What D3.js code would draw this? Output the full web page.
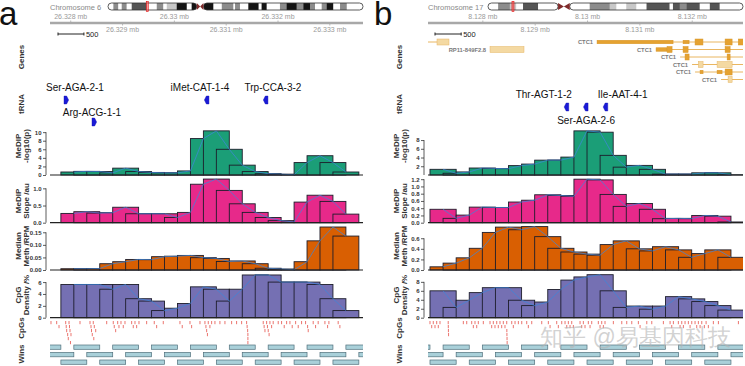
<!DOCTYPE html>
<html>
<head>
<meta charset="utf-8">
<script src="https://cdn.jsdelivr.net/npm/d3@7"></script>
<style>
  body { margin: 0; background: #fff; }
  svg { display: block; }
  text { font-family: "Liberation Sans", Arial, sans-serif; }
</style>
</head>
<body>
<div id="container"></div>
<script>
// ---- data ----
const winWidth = 500; // bp, every window

// chromosome bands [start Mb, end Mb, stain]
const chr6Bands = [[0,3.6,"gneg"],[3.6,6.9,"gpos50"],[6.9,9.2,"gneg"],[9.2,12.5,"gpos50"],[12.5,15.9,"gneg"],
  [15.9,25.9,"gpos75"],[25.9,32.7,"gneg"],[32.7,37.1,"gpos50"],[37.1,39.4,"gneg"],[39.4,46.1,"gpos25"],
  [46.1,52.8,"gpos100"],[52.8,56.1,"gneg"],[56.1,59.5,"gpos100"],[59.5,61.8,"acen"],[61.8,64,"acen"],
  [64,70.7,"gpos100"],[70.7,76.3,"gneg"],[76.3,84.1,"gpos50"],[84.1,85.2,"gneg"],[85.2,88.5,"gpos50"],
  [88.5,94.1,"gneg"],[94.1,101,"gpos100"],[101,103,"gneg"],[103,106.4,"gpos100"],[106.4,115.3,"gneg"],
  [115.3,119.8,"gpos50"],[119.8,126.5,"gpos100"],[126.5,131,"gpos50"],[131,135.5,"gpos100"],
  [135.5,138.8,"gpos50"],[138.8,143.3,"gneg"],[143.3,146.7,"gpos50"],[146.7,151.1,"gpos100"],
  [151.1,155.6,"gneg"],[155.6,160.1,"gpos50"],[160.1,171,"gneg"]];
const chr17Bands = [[0,3.3,"gneg"],[3.3,7.1,"gpos50"],[7.1,9.2,"gpos25"],[9.2,11.4,"gneg"],[11.4,16.3,"gpos75"],
  [16.3,22.8,"gneg"],[22.8,24.7,"acen"],[24.7,26.6,"acen"],[26.6,33.1,"gneg"],[33.1,39.6,"gpos50"],
  [39.6,41.8,"gpos25"],[41.8,45,"gneg"],[45,48.3,"gpos25"],[48.3,51.6,"gneg"],[51.6,59.1,"gpos75"],
  [59.1,60.2,"gneg"],[60.2,62.4,"gpos75"],[62.4,64.6,"gpos50"],[64.6,68.9,"gpos75"],[68.9,72.2,"gneg"],
  [72.2,75.4,"gpos75"],[75.4,83,"gneg"]];

const axisTicksA = [26328000, 26329000, 26330000, 26331000, 26332000, 26333000];
const axisTicksB = [8128000, 8129000, 8130000, 8131000, 8132000];

// window starts (bp), wins track shows all of them
const winsA = [26327310,26327560,26327810,26328060,26328310,26328560,26328810,26329060,26329310,26329560,
  26329810,26330060,26330310,26330560,26330810,26331060,26331310,26331560,26331810,26332060,26332310,
  26332560,26332810,26333060,26333310,26333560];
const winsB = [8126490,8126740,8126990,8127240,8127490,8127740,8127990,8128240,8128490,8128740,8128990,
  8129240,8129490,8129740,8129990,8130240,8130490,8130740,8130990,8131240,8131490,8131740,8131990,
  8132240,8132490,8132740];

// histogram values, one per window starting at wins[2]
const medipA  = [0.7,0.85,0.8,0.5,1.6,0.8,0.6,0.5,0.5,0.95,8.5,10.3,6.0,2.3,0.8,0.3,0.2,0.05,2.9,4.5,2.9,0.7];
const slopeA  = [0.27,0.32,0.28,0.29,0.45,0.26,0.26,0.26,0.15,0.3,1.12,1.27,0.94,0.55,0.3,0.15,0.06,0.02,0.6,0.8,0.62,0.25];
const medianA = [0.005,0.005,0.006,0.025,0.033,0.042,0.041,0.053,0.055,0.058,0.049,0.046,0.034,0.036,0.025,0.007,0.004,0.001,0.033,0.116,0.171,0.135];
const cpgDensA = [5.6,5.6,5.6,4.8,5.6,3.2,2.8,1.2,1.6,2.4,5.2,4.8,2.8,4.8,7.2,7.2,6.0,6.0,6.0,5.6,3.2,1.2];

const medipB  = [1.3,0.4,0.7,1.6,1.5,1.45,2.15,2.5,3.4,3.4,4.1,10.1,9.8,4.5,1.8,2.2,1.3,0.2,0.2,0.2,0.5,0.5,0.05];
const slopeB  = [0.37,0.12,0.21,0.43,0.42,0.42,0.57,0.62,0.77,0.75,0.73,1.2,1.18,0.78,0.45,0.53,0.37,0.11,0.12,0.11,0.2,0.18,0.02];
const medianB = [0.06,0.13,0.23,0.41,0.71,0.81,0.76,0.82,0.63,0.41,0.34,0.3,0.28,0.48,0.55,0.4,0.36,0.44,0.38,0.24,0.31,0.38,0.24];
const cpgDensB = [6.0,2.3,3.9,5.6,6.7,6.7,3.9,2.7,3.5,6.3,8.4,9.1,9.6,6.0,2.3,2.6,1.9,2.6,4.7,4.2,3.6,2.7,1.7];

// CpG sites (bp)
const cpgA = [26327619,26327729,26327774,26327903,26327913,26327922,26327941,26327953,26327967,26327976,26327986,
  26327995,26328005,26328179,26328372,26328391,26328401,26328416,26328435,26328445,26328455,26328482,26328694,
  26328821,26328840,26328867,26328906,26328931,26328970,26329014,26329047,26329176,26329207,26329240,26329272,
  26329317,26329465,26329612,26329658,26329786,26330108,26330152,26330301,26330333,26330494,26330590,26330609,
  26330623,26330638,26330654,26330686,26330719,26330783,26330879,26330976,26331105,26331201,26331298,26331394,
  26331404,26331414,26331419,26331419,26331419,26331425,26331715,26331732,26331748,26331780,26331796,26331811,
  26331828,26331844,26331877,26331907,26332004,26332069,26332120,26332166,26332230,26332274,26332340,26332390,
  26332455,26332532,26332571,26332583,26332679,26332725,26332775,26332905,26332957,26332982,26333161,26333194];
const cpgB = [8126990,8127023,8127053,8127086,8127118,8127149,8127181,8127338,8127340,8127342,8127345,8127627,
  8127692,8127787,8127818,8127850,8127883,8127913,8128009,8128137,8128169,8128200,8128232,8128265,8128295,
  8128327,8128360,8128391,8128423,8128456,8128458,8128460,8128462,8128464,8128466,8128552,8128582,8128615,
  8128678,8128743,8128838,8128869,8128934,8129125,8129251,8129284,8129411,8129442,8129507,8129570,8129603,
  8129633,8129666,8129698,8129729,8129857,8129889,8129920,8129952,8130015,8130048,8130080,8130206,8130239,
  8130271,8130302,8130334,8130493,8130654,8130749,8130845,8130971,8131004,8131132,8131227,8131449,8131577,
  8131609,8131640,8131735,8131768,8131800,8131831,8131863,8131926,8131959,8131991,8132054,8132086,8132117,
  8132150,8132182,8132232,8132265,8132308,8132404,8132500,8132882];

// tRNA genes
const trnaNamesA = ["Ser-AGA-2-1", "Arg-ACG-1-1", "iMet-CAT-1-4", "Trp-CCA-3-2"];
const trnaPosA = [26327909, 26328449, 26330629, 26331767];
const trnaStrandA = ["+", "+", "-", "-"];
const trnaNamesB = ["Thr-AGT-1-2", "Ser-AGA-2-6", "Ile-AAT-4-1"];
const trnaPosB = [8129603, 8129972, 8130348];
const trnaStrandB = ["-", "-", "-"];

// gene models in panel b: transcript span and exons [start, end, kind]
const geneNamesB = ["", "CTC1", "RP11-849F2.8", "CTC1", "CTC1", "CTC1", "CTC1", "CTC1"];
const geneSpansB = [[8126700,8127353],[8130182,8133300],[8128137,8128786],[8131309,8133300],
  [8131768,8133300],[8131997,8133300],[8132054,8133300],[8132551,8133300]];
const geneExonsB = [
  [[8127124,8127353,"nc"]],
  [[8130182,8131634,"utr"],[8131825,8131940,"utr"],[8132054,8132205,"cds"],[8132628,8132762,"cds"],[8132880,8132990,"cds"]],
  [[8128137,8128786,"nc"]],
  [[8131309,8131519,"utr"],[8131519,8131615,"cds"],[8131825,8131921,"cds"],[8132628,8132724,"cds"]],
  [[8131863,8131940,"cds"],[8132667,8132724,"cds"]],
  [[8132117,8132207,"nc"],[8132475,8132762,"nc"]],
  [[8132150,8132207,"utr"],[8132475,8132570,"utr"],[8132628,8132762,"cds"]],
  [[8132685,8132762,"nc"]]
];

// ---- layout ----
const W = 745, H = 366;
const bandFill = {gneg:"#ffffff", gpos25:"#c8c8c8", gpos50:"#8c8c8c", gpos75:"#555555", gpos100:"#141414"};
const histRows = [
  {top:130, bot:175,   title:["MeDIP","-log10(p)"], ty:146, color:"#1b9e77"},
  {top:177, bot:222.7, title:["MeDIP","Slope /au"], ty:201, color:"#e7298a"},
  {top:225, bot:270,   title:["Median","Meth /RPM"], ty:246, color:"#d95f02"},
  {top:272, bot:317.7, title:["CpG","Density /%"], ty:295, color:"#7570b3"}
];
const geneRowY = [42, 49.5, 57, 64.5, 72, 79.5];
const geneRows = [0, 0, 1, 1, 2, 3, 4, 5];

const panels = [
  {key:"a", off:0, letterX:-1, left:50, right:363, domain:[26327600, 26333640],
   chrom:"Chromosome 6", chromLen:171, bands:chr6Bands, ideoX:[108,363], here:26.33,
   ticks:axisTicksA, wins:winsA, cpg:cpgA,
   hist:[medipA, slopeA, medianA, cpgDensA], ymax:[10.5, 1.33, 0.179, 7.7],
   yticks:[[0,2,4,6,8,10],[0,0.5,1],[0,0.05,0.1,0.15],[0,2,4,6]],
   trna:{names:trnaNamesA, pos:trnaPosA, strand:trnaStrandA,
         my:[100,122,100,100], ly:[91,116,91,91], ldx:[9,-2,-7,7]}},
  {key:"b", off:378, letterX:374, left:428, right:743, domain:[8126952, 8132970],
   chrom:"Chromosome 17", chromLen:83, bands:chr17Bands, ideoX:[488,743], here:8.13,
   ticks:axisTicksB, wins:winsB, cpg:cpgB,
   hist:[medipB, slopeB, medianB, cpgDensB], ymax:[10.3, 1.26, 0.85, 10.2],
   yticks:[[2,4,6,8],[0,0.2,0.4,0.6,0.8,1,1.2],[0,0.2,0.4,0.6],[0,2,4,6,8]],
   trna:{names:trnaNamesB, pos:trnaPosB, strand:trnaStrandB,
         my:[107,107,107], ly:[98,124,98], ldx:[-23,0,17]},
   genes:true}
];

const svg = d3.select("#container").append("svg").attr("width", W).attr("height", H);
const defs = svg.append("defs");

function vTitle(g, lines, cx, cy) {
  const n = lines.length;
  lines.forEach((t, i) => {
    const x = cx + (i - (n - 1) / 2) * 8;
    g.append("text").attr("transform", `translate(${x},${cy}) rotate(-90)`)
      .attr("text-anchor", "middle").attr("dy", "0.35em")
      .attr("font-size", 8).attr("font-weight", "bold").attr("fill", "#333").text(t);
  });
}

panels.forEach(p => {
  const g = svg.append("g");
  const x = d3.scaleLinear().domain(p.domain).range([p.left, p.right]);
  const clipId = "clip" + p.key;
  defs.append("clipPath").attr("id", clipId).append("rect")
    .attr("x", p.left).attr("y", 0).attr("width", p.right - p.left).attr("height", H);

  // panel letter
  g.append("text").attr("x", p.letterX).attr("y", 25).attr("font-size", 33).attr("fill", "#111").text(p.key);

  // ideogram
  const xi = d3.scaleLinear().domain([0, p.chromLen]).range(p.ideoX);
  const it = 3, ih = 7, im = it + ih / 2;
  const acen = p.bands.filter(b => b[2] === "acen");
  const cenS = acen[0][0], cenM = acen[0][1], cenE = acen[1][1];
  g.append("text").attr("x", p.off + 50).attr("y", 9.5).attr("font-size", 7.5).attr("fill", "#8a8a8a").text(p.chrom);
  const icp = defs.append("clipPath").attr("id", "ideo" + p.key);
  const arms = [[0, cenS], [cenE, p.chromLen]];
  arms.forEach(a => icp.append("rect").attr("x", xi(a[0])).attr("y", it)
    .attr("width", xi(a[1]) - xi(a[0])).attr("height", ih).attr("rx", 3.5));
  g.append("g").attr("clip-path", `url(#ideo${p.key})`)
    .selectAll("rect").data(p.bands.filter(b => b[2] !== "acen")).join("rect")
    .attr("x", b => xi(b[0])).attr("width", b => xi(b[1]) - xi(b[0]) + 0.3)
    .attr("y", it).attr("height", ih).attr("fill", b => bandFill[b[2]]);
  arms.forEach(a => g.append("rect").attr("x", xi(a[0])).attr("y", it)
    .attr("width", xi(a[1]) - xi(a[0])).attr("height", ih).attr("rx", 3.5)
    .attr("fill", "none").attr("stroke", "#333").attr("stroke-width", 0.8));
  g.append("path").attr("d", `M${xi(cenS)},${it}L${xi(cenM)},${im}L${xi(cenS)},${it + ih}Z`).attr("fill", "#7f2a2a");
  g.append("path").attr("d", `M${xi(cenE)},${it}L${xi(cenM)},${im}L${xi(cenE)},${it + ih}Z`).attr("fill", "#7f2a2a");
  g.append("rect").attr("x", xi(p.here) - 1).attr("y", it - 1.5).attr("width", 2).attr("height", ih + 3)
    .attr("fill", "#ff5a5a").attr("fill-opacity", 0.6).attr("stroke", "#e01010").attr("stroke-width", 0.6);

  // genome axis
  g.append("line").attr("x1", p.left).attr("x2", p.right).attr("y1", 23).attr("y2", 23)
    .attr("stroke", "#a8a8a8").attr("stroke-width", 2.4);
  p.ticks.forEach((t, i) => {
    const up = i % 2 === 0;
    g.append("line").attr("x1", x(t)).attr("x2", x(t)).attr("y1", 23).attr("y2", up ? 20.5 : 25.5)
      .attr("stroke", "#a8a8a8").attr("stroke-width", 0.8);
    g.append("text").attr("x", x(t)).attr("y", up ? 19 : 31.5).attr("text-anchor", "middle")
      .attr("font-size", 7).attr("fill", "#9a9a9a").text(+(t / 1e6).toFixed(3) + " mb");
  });
  // scale bar 500 bp
  const sb0 = p.left + (p.key === "a" ? 8 : 7), sb1 = sb0 + x(p.domain[0] + 500) - x(p.domain[0]);
  g.append("line").attr("x1", sb0).attr("x2", sb1).attr("y1", 34).attr("y2", 34).attr("stroke", "#222").attr("stroke-width", 1);
  [sb0, sb1].forEach(v => g.append("line").attr("x1", v).attr("x2", v).attr("y1", 32.5).attr("y2", 35.5).attr("stroke", "#222"));
  g.append("text").attr("x", sb1 + 2).attr("y", 36.5).attr("font-size", 7.5).attr("fill", "#222").text("500");

  // track titles
  const tx = p.off + 22;
  vTitle(g, ["Genes"], tx - 1, 57);
  vTitle(g, ["tRNA"], tx - 1, 104);
  histRows.forEach(r => vTitle(g, r.title, tx, r.ty));
  vTitle(g, ["CpGs"], tx - 1, 328);
  vTitle(g, ["Wins"], tx - 1, 354);

  const pg = g.append("g").attr("clip-path", `url(#${clipId})`);

  // genes
  if (p.genes) {
    geneSpansB.forEach((s, k) => {
      const cy = geneRowY[geneRows[k]];
      pg.append("line").attr("x1", x(s[0])).attr("x2", x(s[1])).attr("y1", cy).attr("y2", cy)
        .attr("stroke", "#e3a338").attr("stroke-width", 0.8);
      geneExonsB[k].forEach(e => {
        const h = e[2] === "utr" ? 3.5 : 6;
        pg.append("rect").attr("x", x(e[0])).attr("width", x(e[1]) - x(e[0])).attr("y", cy - h / 2).attr("height", h)
          .attr("fill", e[2] === "nc" ? "#f4d9a2" : "#e5a231").attr("stroke", e[2] === "nc" ? "#e6b565" : "#d8962a")
          .attr("stroke-width", 0.5);
      });
      if (geneNamesB[k]) {
        g.append("text").attr("x", x(s[0]) - 4).attr("y", cy + 2).attr("text-anchor", "end")
          .attr("font-size", 5.8).attr("font-weight", "bold").attr("fill", "#7a7a7a").text(geneNamesB[k]);
      }
    });
  }

  // tRNA
  const tr = p.trna;
  tr.names.forEach((n, k) => {
    const cx = x(tr.pos[k]), cy = tr.my[k], s = tr.strand[k] === "+" ? 1 : -1;
    const pts = [[-2, -4], [0.6, -4], [2.6, 0], [0.6, 4], [-2, 4]].map(d => [cx + s * d[0], cy + d[1]]);
    g.append("path").attr("d", "M" + pts.join("L") + "Z").attr("fill", "#1a1ad6").attr("stroke", "#1010b0").attr("stroke-width", 0.4);
    g.append("text").attr("x", cx + tr.ldx[k]).attr("y", tr.ly[k]).attr("text-anchor", "middle")
      .attr("font-family", "DejaVu Sans").attr("font-size", 10).attr("fill", "#111").text(n);
  });

  // histograms
  const starts = p.wins.slice(2);
  histRows.forEach((r, ti) => {
    const vals = p.hist[ti];
    const y = d3.scaleLinear().domain([0, p.ymax[ti]]).range([r.bot, r.top]);
    pg.append("g").selectAll("rect").data(vals).join("rect")
      .attr("x", (d, i) => x(starts[i]))
      .attr("width", (d, i) => x(starts[i] + winWidth) - x(starts[i]))
      .attr("y", d => y(d)).attr("height", d => r.bot - y(d))
      .attr("fill", r.color).attr("stroke", "#1d1d2b").attr("stroke-width", 0.9);
    pg.append("path").datum(vals)
      .attr("d", d3.line().x((d, i) => x(starts[i] + winWidth / 2)).y(d => y(d)))
      .attr("fill", "none").attr("stroke", "#3f86d8").attr("stroke-opacity", 0.75).attr("stroke-width", 1);
    g.append("line").attr("x1", p.left).attr("x2", p.right).attr("y1", r.bot).attr("y2", r.bot)
      .attr("stroke", "#222").attr("stroke-width", 1.2);
    const yt = p.yticks[ti];
    const ax = g.append("g").attr("transform", `translate(${p.left - 4},0)`)
      .call(d3.axisLeft(y).tickValues(yt).tickSize(3).tickPadding(1.5).tickSizeOuter(0));
    ax.select(".domain").remove();
    ax.append("line").attr("y1", r.bot).attr("y2", y(yt[yt.length - 1])).attr("stroke", "#333").attr("stroke-width", 0.8);
    ax.selectAll(".tick line").attr("stroke", "#333").attr("stroke-width", 0.8);
    ax.selectAll(".tick text").attr("font-size", 6).attr("font-weight", "bold").attr("fill", "#333")
      .attr("font-family", "Liberation Sans, Arial, sans-serif");
  });

  // CpG sites, stacked in rows
  const last = [];
  p.cpg.slice().sort((a, b) => a - b).forEach(c => {
    const px = x(c);
    let r = last.findIndex(l => px - l >= 3);
    if (r < 0) { r = last.length; last.push(px); } else last[r] = px;
    pg.append("line").attr("x1", px).attr("x2", px).attr("y1", 321 + r * 4).attr("y2", 324.2 + r * 4)
      .attr("stroke", "#e3382f").attr("stroke-width", 0.7);
  });

  // windows
  const winRowY = [345, 352.5, 360];
  pg.append("g").selectAll("rect").data(p.wins).join("rect")
    .attr("x", d => x(d)).attr("width", d => x(d + winWidth) - x(d))
    .attr("y", (d, j) => winRowY[(((j - 3) % 3) + 3) % 3]).attr("height", 4.3)
    .attr("fill", "#a9d0d9").attr("stroke", "#4f6f7b").attr("stroke-width", 0.7);
});

// watermark
svg.append("text").attr("x", 540).attr("y", 345).attr("font-family", "Noto Sans CJK SC")
  .attr("font-size", 23).attr("fill", "#b4b4b4").attr("fill-opacity", 0.6).text("知乎 @易基因科技");
</script>
</body>
</html>
